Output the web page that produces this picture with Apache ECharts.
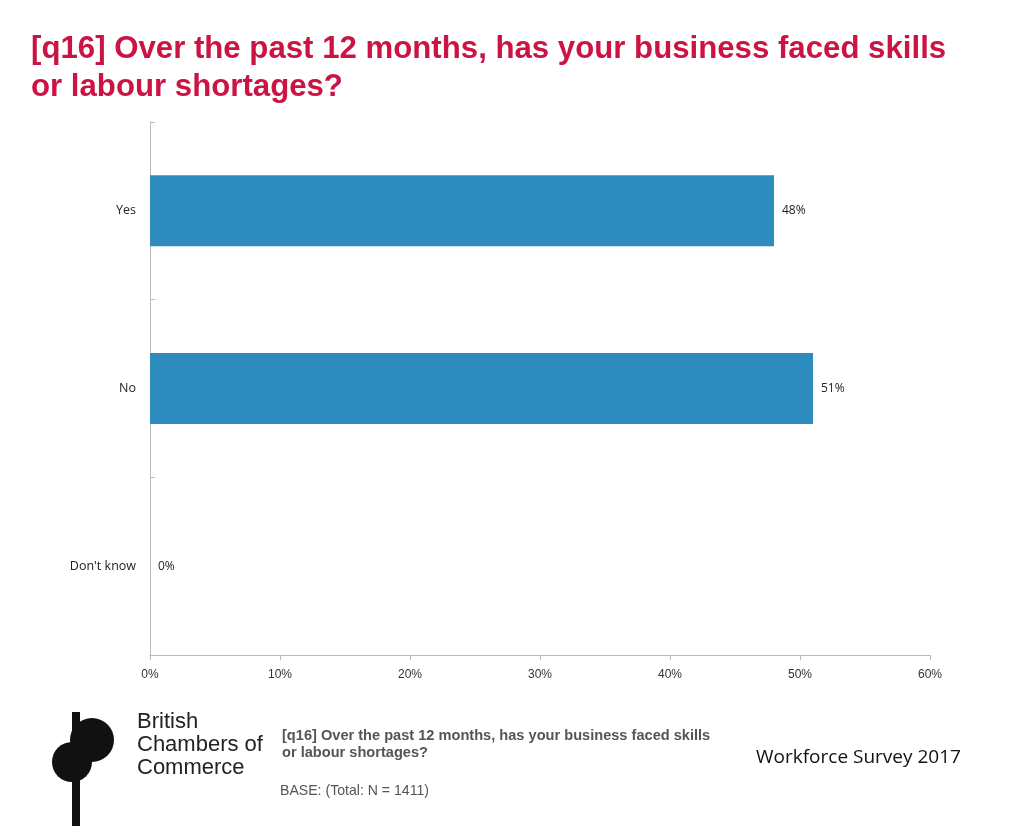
<!DOCTYPE html>
<html><head><meta charset="utf-8">
<script src="https://cdn.jsdelivr.net/npm/echarts@6/dist/echarts.min.js"></script>
<style>html,body{margin:0;padding:0;background:#fff}#c{width:1024px;height:826px}</style>
</head><body><div id="c"></div>
<script>
const categories = ["Yes", "No", "Don't know"];
const values = [48, 51, 0];
const title = "[q16] Over the past 12 months, has your business faced skills\nor labour shortages?";
const chart = echarts.init(document.getElementById('c'));
chart.setOption({
  animation: false,
  title: { text: title, left: 31, top: 30, padding: 0, textStyle: { color: '#CC1444', fontFamily: 'Liberation Sans, Arial', fontWeight: 'bold', fontSize: 31.2, lineHeight: 38 } },
  grid: { left: 150, right: 94, top: 122, bottom: 171 },
  xAxis: { type: 'value', min: 0, max: 60, interval: 10,
    axisLabel: { formatter: '{value}%', color: '#333', fontFamily: 'Liberation Sans, Arial', fontSize: 12, margin: 14 },
    axisLine: { show: true, lineStyle: { color: '#bbb' } }, axisTick: { show: true, length: 5, lineStyle: { color: '#bbb' } },
    splitLine: { show: false } },
  yAxis: { type: 'category', data: categories, inverse: true,
    axisLabel: { color: '#222', fontFamily: 'Open Sans, Liberation Sans', fontSize: 12.5, margin: 14 },
    axisLine: { show: true, lineStyle: { color: '#bbb' } }, axisTick: { show: true, inside: true, length: 5, lineStyle: { color: '#bbb' } } },
  series: [{ type: 'bar', data: values, barWidth: 71, itemStyle: { color: '#2E8BC0' },
    label: { show: true, position: 'right', distance: 8, formatter: '{c}%', color: '#222', fontFamily: 'Open Sans, Liberation Sans', fontSize: 12 } }],
  graphic: [
    { type: 'text', left: 137, top: 710, style: { text: 'British\nChambers of\nCommerce', fill: '#222', font: '22px "Liberation Sans", Arial', lineHeight: 23 } },
    { type: 'rect', shape: { x: 72, y: 712, width: 8, height: 114 }, style: { fill: '#111' } },
    { type: 'circle', shape: { cx: 92, cy: 740, r: 22 }, style: { fill: '#111' } },
    { type: 'circle', shape: { cx: 72, cy: 762, r: 20 }, style: { fill: '#111' } },
    { type: 'text', left: 282, top: 727, style: { text: '[q16] Over the past 12 months, has your business faced skills\nor labour shortages?', fill: '#555', font: 'bold 14.6px "Liberation Sans", Arial', lineHeight: 17 } },
    { type: 'text', left: 280, top: 784, style: { text: 'BASE: (Total: N = 1411)', fill: '#555', font: '14.1px "Liberation Sans", Arial' } },
    { type: 'text', left: 756, top: 748, style: { text: 'Workforce Survey 2017', fill: '#111', font: '19px "Open Sans", "Liberation Sans"' } }
  ]
});
</script></body></html>
